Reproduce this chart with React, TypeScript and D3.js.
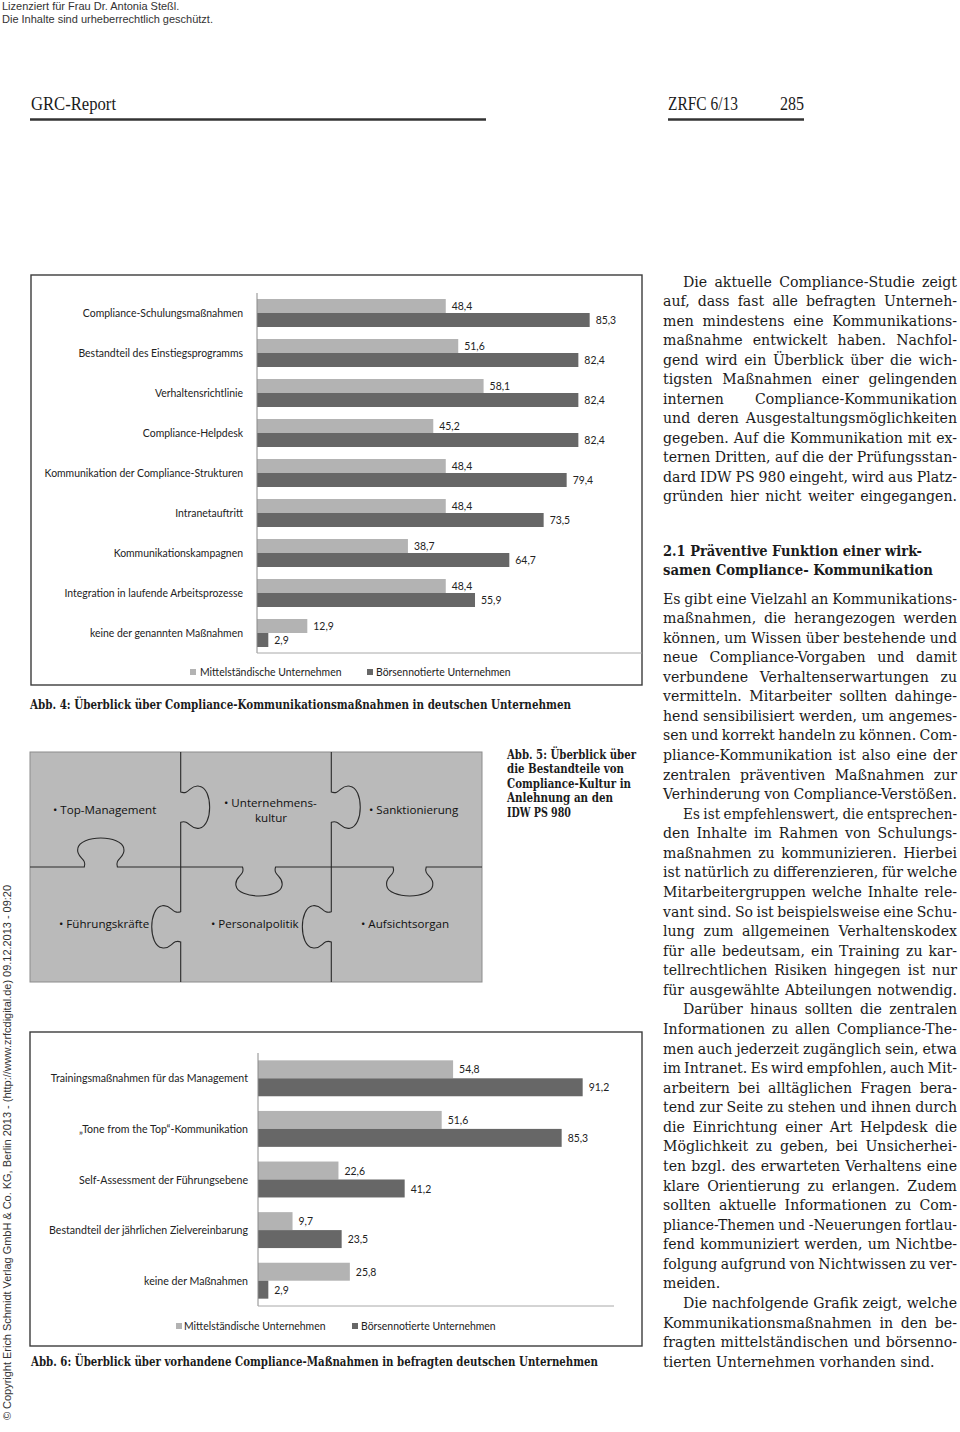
import React from 'react';
import * as d3 from 'd3';

// ---------- DATA ----------
const chart1Categories = [
  'Compliance-Schulungsmaßnahmen',
  'Bestandteil des Einstiegsprogramms',
  'Verhaltensrichtlinie',
  'Compliance-Helpdesk',
  'Kommunikation der Compliance-Strukturen',
  'Intranetauftritt',
  'Kommunikationskampagnen',
  'Integration in laufende Arbeitsprozesse',
  'keine der genannten Maßnahmen',
];
const chart1Mittel = [48.4, 51.6, 58.1, 45.2, 48.4, 48.4, 38.7, 48.4, 12.9];
const chart1Boerse = [85.3, 82.4, 82.4, 82.4, 79.4, 73.5, 64.7, 55.9, 2.9];

const chart2Categories = [
  'Trainingsmaßnahmen für das Management',
  '„Tone from the Top“-Kommunikation',
  'Self-Assessment der Führungsebene',
  'Bestandteil der jährlichen Zielvereinbarung',
  'keine der Maßnahmen',
];
const chart2Mittel = [54.8, 51.6, 22.6, 9.7, 25.8];
const chart2Boerse = [91.2, 85.3, 41.2, 23.5, 2.9];

const seriesNames = ['Mittelständische Unternehmen', 'Börsennotierte Unternehmen'];

const puzzleLabels = [
  ['Top-Management'],
  ['Unternehmens-', 'kultur'],
  ['Sanktionierung'],
  ['Führungskräfte'],
  ['Personalpolitik'],
  ['Aufsichtsorgan'],
];

const caption4 = 'Abb. 4: Überblick über Compliance-Kommunikationsmaßnahmen in deutschen Unternehmen';
const caption5 = ['Abb. 5: Überblick über', 'die Bestandteile von', 'Compliance-Kultur in', 'Anlehnung an den', 'IDW PS 980'];
const caption5Widths = [129, 117, 124, 106, 64];
const caption6 = 'Abb. 6: Überblick über vorhandene Compliance-Maßnahmen in befragten deutschen Unternehmen';

const introLines = [
  'Die aktuelle Compliance-Studie zeigt',
  'auf, dass fast alle befragten Unterneh-',
  'men mindestens eine Kommunikations-',
  'maßnahme entwickelt haben. Nachfol-',
  'gend wird ein Überblick über die wich-',
  'tigsten Maßnahmen einer gelingenden',
  'internen Compliance-Kommunikation',
  'und deren Ausgestaltungsmöglichkeiten',
  'gegeben. Auf die Kommunikation mit ex-',
  'ternen Dritten, auf die der Prüfungsstan-',
  'dard IDW PS 980 eingeht, wird aus Platz-',
  'gründen hier nicht weiter eingegangen.',
];
const headingLines = ['2.1  Präventive Funktion einer wirk-', 'samen Compliance- Kommunikation'];
const bodyLines = [
  'Es gibt eine Vielzahl an Kommunikations-',
  'maßnahmen, die herangezogen werden',
  'können, um Wissen über bestehende und',
  'neue Compliance-Vorgaben und damit',
  'verbundene Verhaltenserwartungen zu',
  'vermitteln. Mitarbeiter sollten dahinge-',
  'hend sensibilisiert werden, um angemes-',
  'sen und korrekt handeln zu können. Com-',
  'pliance-Kommunikation ist also eine der',
  'zentralen präventiven Maßnahmen zur',
  'Verhinderung von Compliance-Verstößen.',
  'Es ist empfehlenswert, die entsprechen-',
  'den Inhalte im Rahmen von Schulungs-',
  'maßnahmen zu kommunizieren. Hierbei',
  'ist natürlich zu differenzieren, für welche',
  'Mitarbeitergruppen welche Inhalte rele-',
  'vant sind. So ist beispielsweise eine Schu-',
  'lung zum allgemeinen Verhaltenskodex',
  'für alle bedeutsam, ein Training zu kar-',
  'tellrechtlichen Risiken hingegen ist nur',
  'für ausgewählte Abteilungen notwendig.',
  'Darüber hinaus sollten die zentralen',
  'Informationen zu allen Compliance-The-',
  'men auch jederzeit zugänglich sein, etwa',
  'im Intranet. Es wird empfohlen, auch Mit-',
  'arbeitern bei alltäglichen Fragen bera-',
  'tend zur Seite zu stehen und ihnen durch',
  'die Einrichtung einer Art Helpdesk die',
  'Möglichkeit zu geben, bei Unsicherhei-',
  'ten bzgl. des erwarteten Verhaltens eine',
  'klare Orientierung zu erlangen. Zudem',
  'sollten aktuelle Informationen zu Com-',
  'pliance-Themen und -Neuerungen fortlau-',
  'fend kommuniziert werden, um Nichtbe-',
  'folgung aufgrund von Nichtwissen zu ver-',
  'meiden.',
  'Die nachfolgende Grafik zeigt, welche',
  'Kommunikationsmaßnahmen in den be-',
  'fragten mittelständischen und börsenno-',
  'tierten Unternehmen vorhanden sind.',
];
const bodyIndent = [11, 21, 36];
const bodyRagged = [35, 39];

const headerLines = ['Lizenziert für Frau Dr. Antonia Steßl.', 'Die Inhalte sind urheberrechtlich geschützt.'];
const copyrightText =
  '© Copyright Erich Schmidt Verlag GmbH & Co. KG, Berlin 2013 - (http://www.zrfcdigital.de) 09.12.2013 - 09:20';

// ---------- HELPERS ----------
const LIGHT = '#b3b3b3';
const DARK = '#676767';
const CHART_FONT = 'Lato, "Open Sans", sans-serif';
const BODY_FAMILY = '"DejaVu Serif Condensed", "DejaVu Serif", serif';
const CAP_FAMILY = '"DejaVu Serif Condensed", "DejaVu Serif", serif';
const BODY_SIZE = 15.7;
const SQUEEZE = 0.9;
const MIN_GAP = 3.2;

const deLocale = d3.formatLocale({ decimal: ',', thousands: '.', grouping: [3], currency: ['', ' €'] });
const fmt = deLocale.format('.1f');

let _ctx: CanvasRenderingContext2D | null = null;
function measure(text: string, font: string): number {
  if (!_ctx) _ctx = document.createElement('canvas').getContext('2d');
  if (!_ctx) return text.length * 7;
  _ctx.font = font;
  return _ctx.measureText(text).width;
}

function JustLine({ text, x, y, width, justify, size }: any) {
  const words = text.split(' ').filter((w: string) => w.length);
  let fs = size;
  let widths = words.map((w: string) => measure(w, `normal ${fs}px ${BODY_FAMILY}`));
  let total = widths.reduce((a: number, b: number) => a + b, 0);
  const need = total + MIN_GAP * (words.length - 1);
  if (need > width) {
    // shrink this line slightly so that it fits the column
    fs = size * (width - MIN_GAP * (words.length - 1)) / total * 0.995;
    widths = words.map((w: string) => measure(w, `normal ${fs}px ${BODY_FAMILY}`));
    total = widths.reduce((a: number, b: number) => a + b, 0);
  }
  const common = { fontFamily: BODY_FAMILY, fontSize: fs, fill: '#1b1b1b' };
  if (!justify || words.length < 2) {
    return (
      <text x={x} y={y} {...common}>
        {text}
      </text>
    );
  }
  const gap = (width - total) / (words.length - 1);
  let cx = x;
  const spans = words.map((w: string, i: number) => {
    const el = (
      <tspan key={i} x={cx}>
        {w}
      </tspan>
    );
    cx += widths[i] + gap;
    return el;
  });
  return (
    <text y={y} {...common}>
      {spans}
    </text>
  );
}

// squeezed chart text (narrow humanist look)
function SText({ x, y, anchor = 'start', children, size }: any) {
  return (
    <text transform={`translate(${x},${y}) scale(${SQUEEZE},1)`} dy="0.35em" textAnchor={anchor} fontSize={size} fill="#222">
      {children}
    </text>
  );
}

// ---------- BAR CHART ----------
function BarChart(props: any) {
  const { categories, mittel, boerse, frame, x0, x1, yTop, yBottom, padInner, padOuter, labelX, legend, axisEnd, fontSize, catSize } = props;
  const x = d3.scaleLinear().domain([0, 100]).range([x0, x1]);
  const y = d3.scaleBand<string>().domain(categories).range([yTop, yBottom]).paddingInner(padInner).paddingOuter(padOuter);
  const sub = d3.scaleBand<string>().domain(['m', 'b']).range([0, y.bandwidth()]);
  const series = [
    { key: 'm', values: mittel, color: LIGHT },
    { key: 'b', values: boerse, color: DARK },
  ];
  return (
    <g fontFamily={CHART_FONT}>
      <rect x={frame.x} y={frame.y} width={frame.w} height={frame.h} fill="#fff" stroke="#3c3c3c" strokeWidth={1.4} />
      {series.map((s) =>
        categories.map((c: string, i: number) => {
          const by = (y(c) as number) + (sub(s.key) as number);
          const v = s.values[i];
          return (
            <g key={s.key + i}>
              <rect x={x(0)} y={by} width={x(v) - x(0)} height={sub.bandwidth()} fill={s.color} />
              <SText x={x(v) + 6} y={by + sub.bandwidth() / 2} size={fontSize}>
                {fmt(v)}
              </SText>
            </g>
          );
        })
      )}
      {categories.map((c: string) => (
        <SText key={c} x={labelX} y={(y(c) as number) + y.bandwidth() / 2} anchor="end" size={catSize}>
          {c}
        </SText>
      ))}
      <line x1={x0} x2={x0} y1={yTop} y2={yBottom} stroke="#8a8a8a" strokeWidth={1} />
      <line x1={x0} x2={axisEnd} y1={yBottom} y2={yBottom} stroke="#a8a8a8" strokeWidth={1} />
      {legend.map((l: any, i: number) => (
        <g key={i}>
          <rect x={l.sx} y={l.y - 3} width={6} height={6} fill={i === 0 ? LIGHT : DARK} />
          <SText x={l.tx} y={l.y} size={fontSize}>
            {seriesNames[i]}
          </SText>
        </g>
      ))}
    </g>
  );
}

// ---------- PUZZLE ----------
function knobEdge(ax: number, ay: number, bx: number, by: number, c: number, depth: number, half: number) {
  const len = Math.hypot(bx - ax, by - ay);
  const ux = (bx - ax) / len;
  const uy = (by - ay) / len;
  const nx = -uy;
  const ny = ux;
  const P = (s: number, p: number) => `${(ax + ux * s + nx * p).toFixed(1)},${(ay + uy * s + ny * p).toFixed(1)}`;
  const nk = half * 0.72;
  const d = depth;
  return [
    `M${P(0, 0)}`,
    `L${P(c - nk, 0)}`,
    `C${P(c - nk + 3, 0.3 * d)} ${P(c - half - 2, 0.3 * d)} ${P(c - half, 0.62 * d)}`,
    `C${P(c - half + 2, 1.08 * d)} ${P(c + half - 2, 1.08 * d)} ${P(c + half, 0.62 * d)}`,
    `C${P(c + half + 2, 0.3 * d)} ${P(c + nk - 3, 0.3 * d)} ${P(c + nk, 0)}`,
    `L${P(len, 0)}`,
  ].join(' ');
}

function Puzzle() {
  const cols = d3.scaleLinear().domain([0, 3]).range([30, 482]);
  const rows = d3.scaleLinear().domain([0, 2]).range([752, 982]);
  const W = cols(1) - cols(0);
  const H = rows(1) - rows(0);
  const kd = 30;
  const edges = [
    knobEdge(cols(1), rows(0), cols(1), rows(1), H * 0.48, -kd, 21),
    knobEdge(cols(2), rows(0), cols(2), rows(1), H * 0.48, -kd, 21),
    knobEdge(cols(1), rows(1), cols(1), rows(2), H * 0.52, kd, 21),
    knobEdge(cols(2), rows(1), cols(2), rows(2), H * 0.52, kd, 21),
    knobEdge(cols(0), rows(1), cols(1), rows(1), W * 0.47, -kd, 23),
    knobEdge(cols(1), rows(1), cols(2), rows(1), W * 0.52, kd, 23),
    knobEdge(cols(2), rows(1), cols(3), rows(1), W * 0.52, kd, 23),
  ];
  const labelPos = [
    { x: 53, y: 810 },
    { x: 224, y: 803 },
    { x: 369, y: 810 },
    { x: 59, y: 924 },
    { x: 211, y: 924 },
    { x: 361, y: 924 },
  ];
  return (
    <g>
      <rect x={cols(0)} y={rows(0)} width={cols(3) - cols(0)} height={rows(2) - rows(0)} fill="#bababa" stroke="#8c8c8c" strokeWidth={1} />
      {edges.map((d, i) => (
        <path key={i} d={d} fill="none" stroke="#2a2a2a" strokeWidth={1.1} />
      ))}
      {puzzleLabels.map((lines, i) => (
        <text key={i} fontFamily='"Open Sans", sans-serif' fontSize={11.6} fill="#111">
          <tspan x={labelPos[i].x} y={labelPos[i].y} dy="0.35em">
            {'• ' + lines[0]}
          </tspan>
          {lines[1] && (
            <tspan x={271} y={labelPos[i].y + 15} dy="0.35em" textAnchor="middle">
              {lines[1]}
            </tspan>
          )}
        </text>
      ))}
    </g>
  );
}

// ---------- APP ----------
export default function App() {
  const colL = 663;
  const colR = 957;
  const indent = 20;
  return (
    <svg width={960} height={1432} style={{ position: 'absolute', left: 0, top: 0, display: 'block' }}>
      <rect x={0} y={0} width={960} height={1432} fill="#fff" />

      {/* header */}
      {headerLines.map((t, i) => (
        <text key={i} x={2} y={10 + i * 13} fontFamily='"Liberation Sans Narrow", "Liberation Sans", Arial, sans-serif' fontSize={11} fill="#333">
          {t}
        </text>
      ))}
      <text x={31} y={110} fontFamily='"Liberation Serif", serif' fontSize={19} fill="#1a1a1a" textLength={85} lengthAdjust="spacingAndGlyphs">
        GRC-Report
      </text>
      <line x1={30} x2={486} y1={119.5} y2={119.5} stroke="#333" strokeWidth={2.6} />
      <text x={668} y={110} fontFamily='"Liberation Serif", serif' fontSize={19} fill="#1a1a1a" textLength={70} lengthAdjust="spacingAndGlyphs">
        ZRFC 6/13
      </text>
      <text x={780} y={110} fontFamily='"Liberation Serif", serif' fontSize={19} fill="#1a1a1a" textLength={24} lengthAdjust="spacingAndGlyphs">
        285
      </text>
      <line x1={668} x2={804} y1={119.5} y2={119.5} stroke="#333" strokeWidth={2.6} />

      {/* copyright vertical */}
      <text
        transform="translate(11,1420) rotate(-90)"
        fontFamily='"Liberation Sans", Arial, sans-serif'
        fontSize={10.5}
        fill="#333"
        textLength={535}
        lengthAdjust="spacingAndGlyphs"
      >
        {copyrightText}
      </text>

      {/* chart 1 */}
      <BarChart
        categories={chart1Categories}
        mittel={chart1Mittel}
        boerse={chart1Boerse}
        frame={{ x: 31, y: 275, w: 611, h: 410 }}
        x0={257}
        x1={647}
        yTop={293}
        yBottom={653}
        padInner={0.3}
        padOuter={0.15}
        labelX={243}
        axisEnd={642}
        fontSize={11.6}
        catSize={11.6}
        legend={[
          { sx: 190, tx: 200, y: 672 },
          { sx: 367, tx: 376, y: 672 },
        ]}
      />
      <text x={30} y={709} fontFamily={CAP_FAMILY} fontWeight="bold" fontSize={13} fill="#1b1b1b" textLength={541} lengthAdjust="spacingAndGlyphs">
        {caption4}
      </text>

      {/* puzzle */}
      <Puzzle />
      {caption5.map((t, i) => (
        <text
          key={i}
          x={507}
          y={759 + i * 14.4}
          fontFamily={CAP_FAMILY}
          fontWeight="bold"
          fontSize={12.5}
          fill="#1b1b1b"
          textLength={caption5Widths[i]}
          lengthAdjust="spacingAndGlyphs"
        >
          {t}
        </text>
      ))}

      {/* chart 2 */}
      <BarChart
        categories={chart2Categories}
        mittel={chart2Mittel}
        boerse={chart2Boerse}
        frame={{ x: 30, y: 1032, w: 612, h: 314 }}
        x0={258}
        x1={614}
        yTop={1053}
        yBottom={1306}
        padInner={0.29}
        padOuter={0.145}
        labelX={248}
        axisEnd={614}
        fontSize={11.6}
        catSize={11.8}
        legend={[
          { sx: 176, tx: 184, y: 1326 },
          { sx: 352, tx: 361, y: 1326 },
        ]}
      />
      <text x={31} y={1366} fontFamily={CAP_FAMILY} fontWeight="bold" fontSize={13} fill="#1b1b1b" textLength={567} lengthAdjust="spacingAndGlyphs">
        {caption6}
      </text>

      {/* right column text */}
      {introLines.map((t, i) => (
        <JustLine
          key={'i' + i}
          text={t}
          x={i === 0 ? colL + indent : colL}
          y={286.5 + i * 19.5}
          width={i === 0 ? colR - colL - indent : colR - colL}
          justify={true}
          size={BODY_SIZE}
        />
      ))}
      <text x={colL} y={556} fontFamily={CAP_FAMILY} fontWeight="bold" fontSize={15.5} fill="#1b1b1b" textLength={259} lengthAdjust="spacingAndGlyphs">
        {headingLines[0]}
      </text>
      <text x={colL} y={574.5} fontFamily={CAP_FAMILY} fontWeight="bold" fontSize={15.5} fill="#1b1b1b" textLength={270} lengthAdjust="spacingAndGlyphs">
        {headingLines[1]}
      </text>
      {bodyLines.map((t, i) => {
        const ind = bodyIndent.includes(i);
        return (
          <JustLine
            key={'b' + i}
            text={t}
            x={ind ? colL + indent : colL}
            y={603.5 + i * 19.57}
            width={ind ? colR - colL - indent : colR - colL}
            justify={!bodyRagged.includes(i)}
            size={BODY_SIZE}
          />
        );
      })}
    </svg>
  );
}
